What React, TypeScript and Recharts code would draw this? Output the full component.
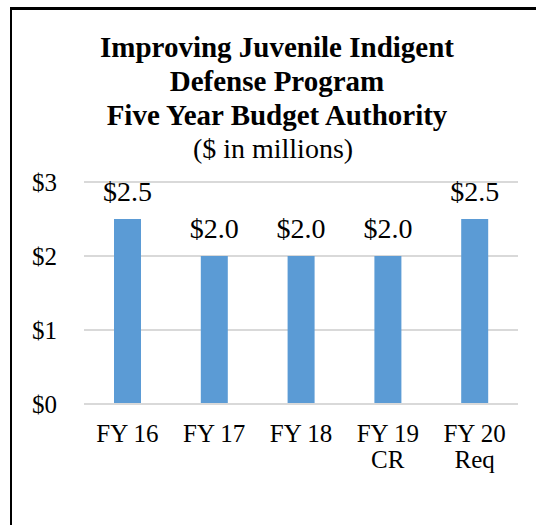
import React from "react";
import { BarChart, Bar, XAxis, YAxis, CartesianGrid, LabelList } from "recharts";

const categories = ["FY 16", "FY 17", "FY 18", "FY 19", "FY 20"];
const subLabels = ["", "", "", "CR", "Req"];
const budget = [2.5, 2.0, 2.0, 2.0, 2.5];
const yTicks = [0, 1, 2, 3];
const titleLines = ["Improving Juvenile Indigent", "Defense Program", "Five Year Budget Authority"];
const subtitle = "($ in millions)";

const data = categories.map((c, i) => ({ name: c, sub: subLabels[i], value: budget[i] }));

const FONT = "'Liberation Serif', 'Times New Roman', serif";

const CategoryTick = (props: any) => {
  const { x, y, payload, index } = props;
  const sub = subLabels[index] || "";
  return (
    <text x={x} y={y} textAnchor="middle" fontFamily={FONT} fontSize={25} fill="#000">
      <tspan x={x} dy={18}>{payload.value}</tspan>
      {sub && <tspan x={x} dy={26}>{sub}</tspan>}
    </text>
  );
};

const ValueLabel = (props: any) => {
  const { x, y, width, value } = props;
  return (
    <text x={x + width / 2} y={y - 18} textAnchor="middle" fontFamily={FONT} fontSize={28} fill="#000">
      {`$${Number(value).toFixed(1)}`}
    </text>
  );
};

export default function App() {
  return (
    <div style={{ position: "absolute", left: 0, top: 0, width: 536, height: 525, overflow: "hidden", background: "#fff" }}>
      <div style={{ position: "absolute", left: 10, top: 7, width: 600, height: 600, borderTop: "3px solid #000", borderLeft: "2px solid #000" }} />
      <svg width={536} height={170} style={{ position: "absolute", left: 0, top: 0 }}>
        {titleLines.map((t, i) => (
          <text key={t} x={277} y={57 + i * 34} textAnchor="middle" fontFamily={FONT} fontWeight="bold" fontSize={29} fill="#000">
            {t}
          </text>
        ))}
        <text x={273} y={158} textAnchor="middle" fontFamily={FONT} fontSize={28} fill="#000">{subtitle}</text>
      </svg>
      <div style={{ position: "absolute", left: 0, top: 0 }}>
        <BarChart width={536} height={525} data={data} margin={{ top: 182, right: 18, bottom: 61, left: 10 }}>
          <CartesianGrid vertical={false} stroke="#d9d9d9" strokeWidth={2} />
          <XAxis
            dataKey="name"
            height={60}
            tickLine={false}
            axisLine={{ stroke: "#d9d9d9", strokeWidth: 2 }}
            tickSize={0}
            tickMargin={20}
            interval={0}
            tick={<CategoryTick />}
          />
          <YAxis
            width={74}
            domain={[0, 3]}
            ticks={yTicks}
            axisLine={false}
            tickLine={false}
            tickSize={0}
            tickMargin={27}
            tickFormatter={(v: number) => `$${v}`}
            tick={{ fontFamily: FONT, fontSize: 25, fill: "#000" }}
          />
          <Bar dataKey="value" fill="#5b9bd5" barSize={27} isAnimationActive={false}>
            <LabelList dataKey="value" content={<ValueLabel />} />
          </Bar>
        </BarChart>
      </div>
    </div>
  );
}
